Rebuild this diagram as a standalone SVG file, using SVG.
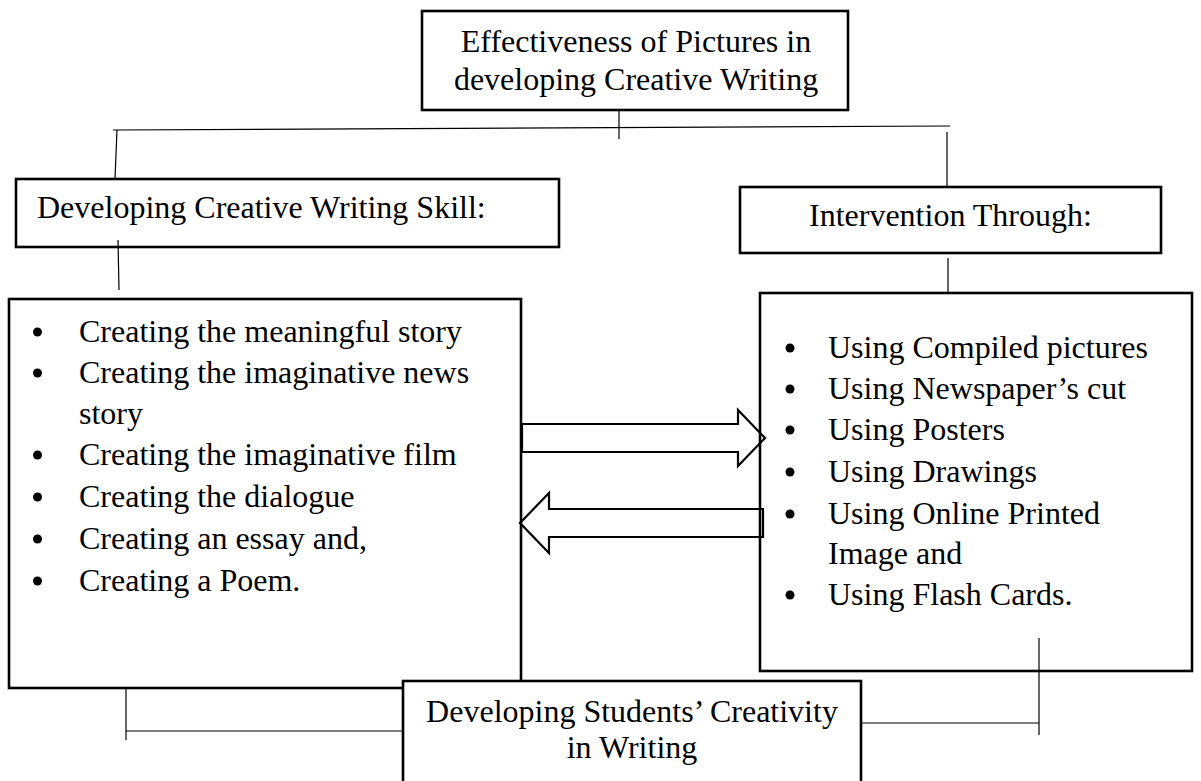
<svg xmlns="http://www.w3.org/2000/svg" width="1201" height="781" viewBox="0 0 1201 781">
<style>
  .box{fill:#fff;stroke:#000;stroke-width:2.6}
  .t{font-family:"Liberation Serif","Times New Roman",serif;font-size:32px;fill:#000}
  .c{text-anchor:middle}
  .ln{stroke:#000;stroke-width:1.2;fill:none}
  .arr{fill:none;stroke:#000;stroke-width:2.2;stroke-linejoin:miter}
  .b{fill:#000}
</style>
<rect width="1201" height="781" fill="#fff"/>

<g id="node-top">
  <rect class="box" x="422" y="11" width="426" height="99"/>
  <text class="t c" x="636" y="52">Effectiveness of Pictures in</text>
  <text class="t c" x="636" y="90">developing Creative Writing</text>
</g>

<g id="node-skill">
  <rect class="box" x="16" y="179" width="543" height="68"/>
  <text class="t" x="37" y="218">Developing Creative Writing Skill:</text>
</g>

<g id="node-intervention">
  <rect class="box" x="740" y="187" width="421" height="66"/>
  <text class="t" x="809" y="226">Intervention Through:</text>
</g>

<g id="node-left-list">
  <rect class="box" x="9" y="299" width="512" height="389"/>
  <g class="b">
    <circle cx="37.5" cy="332" r="4.5"/>
    <circle cx="37.5" cy="373" r="4.5"/>
    <circle cx="37.5" cy="455" r="4.5"/>
    <circle cx="37.5" cy="497" r="4.5"/>
    <circle cx="37.5" cy="539" r="4.5"/>
    <circle cx="37.5" cy="581" r="4.5"/>
  </g>
  <g class="t">
    <text x="79" y="342">Creating the meaningful story</text>
    <text x="79" y="383">Creating the imaginative news</text>
    <text x="79" y="424">story</text>
    <text x="79" y="465">Creating the imaginative film</text>
    <text x="79" y="507">Creating the dialogue</text>
    <text x="79" y="549">Creating an essay and,</text>
    <text x="79" y="591">Creating a Poem.</text>
  </g>
</g>

<g id="node-right-list">
  <rect class="box" x="760" y="293" width="432" height="378"/>
  <g class="b">
    <circle cx="790" cy="348" r="4.5"/>
    <circle cx="790" cy="389" r="4.5"/>
    <circle cx="790" cy="430" r="4.5"/>
    <circle cx="790" cy="472" r="4.5"/>
    <circle cx="790" cy="514" r="4.5"/>
    <circle cx="790" cy="595" r="4.5"/>
  </g>
  <g class="t">
    <text x="828" y="358">Using Compiled pictures</text>
    <text x="828" y="399">Using Newspaper’s cut</text>
    <text x="828" y="440">Using Posters</text>
    <text x="828" y="482">Using Drawings</text>
    <text x="828" y="524">Using Online Printed</text>
    <text x="828" y="564">Image and</text>
    <text x="828" y="605">Using Flash Cards.</text>
  </g>
</g>

<g id="node-bottom">
  <rect class="box" x="403" y="681" width="458" height="130"/>
  <text class="t c" x="632" y="722">Developing Students’ Creativity</text>
  <text class="t c" x="632" y="758">in Writing</text>
</g>

<g id="connectors">
  <line class="ln" x1="113" y1="130" x2="950" y2="126"/>
  <line class="ln" x1="619" y1="110" x2="619" y2="139"/>
  <line class="ln" x1="117" y1="130" x2="115" y2="179"/>
  <line class="ln" x1="947" y1="132" x2="947" y2="187"/>
  <line class="ln" x1="118" y1="240" x2="119" y2="290"/>
  <line class="ln" x1="948" y1="258" x2="948" y2="293"/>
  <line class="ln" x1="126" y1="688" x2="126" y2="740"/>
  <line class="ln" x1="126" y1="731" x2="403" y2="731"/>
  <line class="ln" x1="1039" y1="638" x2="1039" y2="735"/>
  <line class="ln" x1="861" y1="723" x2="1039" y2="723"/>
  <g id="arrow-right">
    <path class="arr" d="M522,424 L738,424 L738,410 L765,438 L738,466 L738,452 L522,452 Z"/>
  </g>
  <g id="arrow-left">
    <path class="arr" d="M763,509 L549,509 L549,493 L520,523 L549,553 L549,537 L763,537 Z"/>
  </g>
</g>
</svg>
